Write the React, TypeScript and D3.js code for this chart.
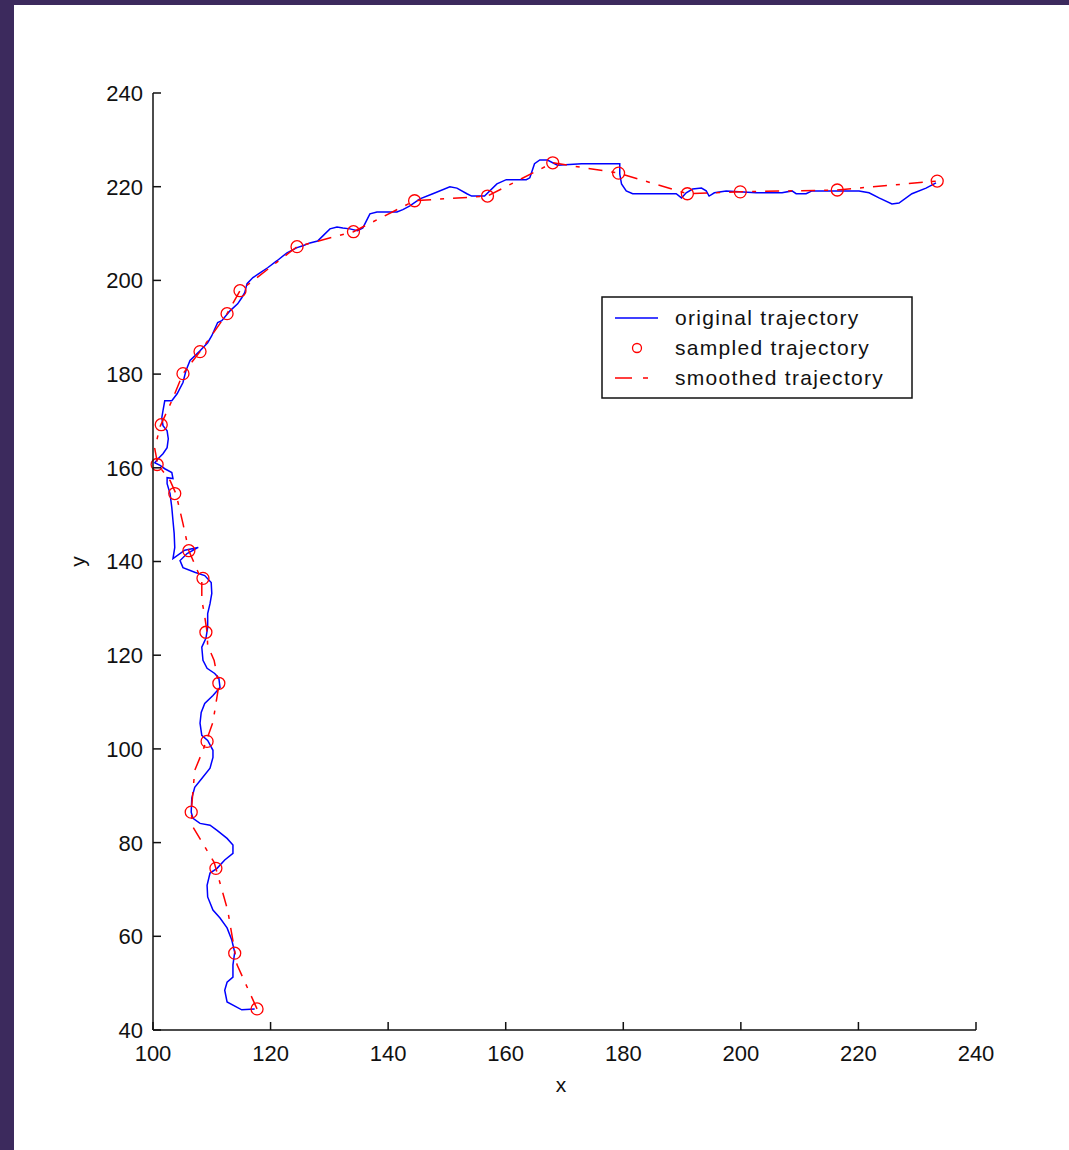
import React from "react";
import * as d3 from "d3";

// original trajectory (blue)
const origX = [
  117.3, 115.1, 112.6, 112.2, 112.6, 113.6, 113.6, 113.9, 113.4, 112.6,
  111.4, 110.2, 109.3, 109.2, 109.7, 110.9, 112.2, 113.6, 113.6, 112.6,
  110.9, 109.7, 108.0, 106.8, 106.5, 106.6, 107.1, 108.3, 109.7, 110.2,
  110.2, 109.3, 108.3, 108.0, 108.2, 108.8, 110.2, 111.4, 111.2, 110.5,
  109.2, 108.5, 108.3, 109.0, 109.3, 109.3, 109.7, 110.0, 109.9, 108.8,
  107.1, 105.1, 104.6, 105.8, 107.7, 105.4, 103.4, 103.7, 103.6, 103.4,
  103.2, 102.9, 102.4, 102.4, 103.4, 103.2, 102.0, 101.2, 100.3, 100.9,
  101.7, 102.4, 102.6, 102.4, 101.7, 101.5, 101.7, 102.0, 103.2, 104.1,
  105.1, 105.6, 106.3, 108.0, 109.3, 110.0, 111.0, 111.7, 113.1, 114.4,
  115.1, 115.6, 116.0, 117.0, 118.2, 119.5, 121.1, 122.8, 124.5, 125.5,
  126.7, 128.0, 128.9, 130.1, 131.3, 132.3, 133.5, 134.8, 135.7, 136.9,
  138.1, 141.5, 142.5, 143.7, 145.4, 147.6, 150.5, 151.7, 153.4, 154.2,
  156.4, 158.5, 160.1, 163.5, 164.1, 164.9, 165.8, 167.1, 168.8, 172.9,
  179.4, 179.4, 179.7, 180.5, 181.6, 189.0, 189.9, 190.7, 191.8, 193.3,
  194.1, 194.6, 195.5, 197.5, 202.6, 207.0, 208.7, 209.4, 211.1, 212.1,
  220.1, 221.8, 223.5, 225.7, 226.9, 229.1, 231.5, 233.2,
];
const origY = [
  44.5, 44.3, 46.0, 48.5, 50.2, 51.3, 53.9, 56.6, 59.2, 61.8,
  63.9, 65.6, 68.4, 70.9, 73.5, 74.5, 76.3, 77.7, 79.5, 80.9,
  82.6, 83.7, 84.1, 85.2, 86.5, 89.5, 91.8, 93.7, 95.9, 98.2,
  99.7, 101.8, 102.9, 105.5, 107.8, 109.7, 111.4, 113.1, 115.1, 116.1,
  117.2, 118.9, 121.7, 123.6, 125.9, 128.9, 131.0, 133.2, 135.5, 137.0,
  137.7, 138.7, 140.2, 141.7, 143.0, 142.4, 140.6, 143.0, 146.0, 148.7,
  151.5, 154.5, 156.6, 157.9, 157.7, 159.0, 159.8, 160.5, 161.1, 162.0,
  163.0, 164.3, 166.2, 167.9, 169.0, 170.7, 172.2, 174.3, 174.3, 175.8,
  178.2, 180.7, 182.9, 185.0, 186.7, 188.2, 191.0, 191.4, 193.5, 195.0,
  196.3, 197.4, 199.3, 200.6, 201.6, 202.7, 204.2, 205.9, 207.0, 207.4,
  208.0, 208.4, 209.5, 211.0, 211.4, 211.2, 211.0, 210.6, 211.2, 214.2,
  214.6, 214.6, 215.1, 215.9, 217.4, 218.5, 220.0, 219.7, 218.5, 218.0,
  218.0, 220.6, 221.5, 221.5, 221.9, 224.9, 225.7, 225.7, 224.6, 224.9,
  224.9, 222.7, 220.6, 219.1, 218.5, 218.5, 217.6, 218.7, 219.5, 219.7,
  219.1, 218.0, 218.7, 219.1, 218.7, 218.7, 219.1, 218.5, 218.5, 219.1,
  219.1, 218.7, 217.6, 216.3, 216.5, 218.5, 219.7, 220.8,
];

// sampled trajectory (red circles)
const sampX = [
  233.4, 216.4, 199.9, 190.9, 179.2, 168.0, 156.9, 144.5, 134.1, 124.5,
  114.8, 112.6, 108.0, 105.1, 101.4, 100.7, 103.7, 106.1, 108.5, 109.0,
  111.2, 109.2, 106.5, 110.7, 113.9, 117.7,
];
const sampY = [
  221.2, 219.3, 218.9, 218.5, 222.9, 225.1, 218.0, 217.0, 210.4, 207.2,
  197.8, 192.9, 184.8, 180.1, 169.2, 160.7, 154.5, 142.3, 136.4, 124.9,
  114.0, 101.6, 86.5, 74.5, 56.4, 44.5,
];

// smoothed trajectory (red dash-dot)
const smoothX = [
  117.7, 114.3, 112.7, 110.4, 106.8, 106.5, 107.1, 108.5, 110.2, 111.2,
  110.4, 109.3, 109.2, 108.7, 108.3, 108.3, 106.1, 105.1, 103.9, 102.9,
  100.8, 100.3, 101.2, 103.2, 105.1, 108.0, 112.6, 114.8, 124.5, 134.1,
  144.5, 156.9, 168.0, 179.2, 190.9, 199.9, 216.4, 233.4,
];
const smoothY = [
  44.5, 53.9, 65.6, 75.8, 83.3, 86.5, 95.4, 99.7, 105.7, 113.6,
  118.9, 122.1, 124.9, 129.1, 131.7, 135.9, 142.3, 148.1, 154.5, 157.3,
  160.7, 164.1, 168.8, 174.3, 180.1, 184.8, 192.9, 197.8, 207.2, 210.4,
  217.0, 218.0, 225.1, 222.9, 218.5, 218.9, 219.3, 221.2,
];

const xTicks = [100, 120, 140, 160, 180, 200, 220, 240];
const yTicks = [40, 60, 80, 100, 120, 140, 160, 180, 200, 220, 240];
const legendLabels = ["original trajectory", "sampled trajectory", "smoothed trajectory"];

const W = 1069;
const H = 1150;
const FONT = "'Liberation Sans', Arial, sans-serif";

export default function App() {
  const x = d3.scaleLinear().domain([100, 240]).range([153, 976]);
  const y = d3.scaleLinear().domain([40, 240]).range([1030, 93]);

  const path = (xs: number[], ys: number[]) =>
    d3
      .line<number>()
      .x((d) => x(xs[d]))
      .y((d) => y(ys[d]))(d3.range(xs.length)) || "";

  const dash = "14,9,4,9";
  const lg = { x0: 602, y0: 297, w: 310, h: 101 };

  return (
    <svg
      width={W}
      height={H}
      style={{ position: "absolute", left: 0, top: 0, display: "block" }}
    >
      <rect width={W} height={H} fill="#3c2a5d" />
      <rect x={14} y={5} width={W - 14} height={H - 5} fill="#ffffff" />

      {/* data */}
      <path d={path(origX, origY)} fill="none" stroke="#0000ff" strokeWidth={1.5} />
      <path
        d={path(smoothX, smoothY)}
        fill="none"
        stroke="#ff0000"
        strokeWidth={1.5}
        strokeDasharray={dash}
      />
      {sampX.map((v, i) => (
        <circle key={i} cx={x(v)} cy={y(sampY[i])} r={6} fill="none" stroke="#ff0000" strokeWidth={1.3} />
      ))}

      {/* axes */}
      <g stroke="#111" strokeWidth={1.5} fill="none">
        <line x1={x(100)} x2={x(100)} y1={y(240)} y2={y(40)} />
        <line x1={x(100)} x2={x(240)} y1={y(40)} y2={y(40)} />
        {yTicks.map((t) => (
          <line key={"yt" + t} x1={x(100)} x2={x(100) + 8} y1={y(t)} y2={y(t)} />
        ))}
        {xTicks.map((t) => (
          <line key={"xt" + t} x1={x(t)} x2={x(t)} y1={y(40)} y2={y(40) - 8} />
        ))}
      </g>
      <g fontFamily={FONT} fontSize={22} fill="#111">
        {yTicks.map((t) => (
          <text key={"yl" + t} x={x(100) - 10} y={y(t)} dy="0.36em" textAnchor="end">
            {t}
          </text>
        ))}
        {xTicks.map((t) => (
          <text key={"xl" + t} x={x(t)} y={y(40) + 31} textAnchor="middle">
            {t}
          </text>
        ))}
        <text x={561} y={1092} textAnchor="middle" fontSize={21}>
          x
        </text>
        <text
          transform={`translate(85, ${(y(40) + y(240)) / 2}) rotate(-90)`}
          textAnchor="middle"
          fontSize={21}
        >
          y
        </text>
      </g>

      {/* legend */}
      <g>
        <rect x={lg.x0} y={lg.y0} width={lg.w} height={lg.h} fill="#fff" stroke="#111" strokeWidth={1.5} />
        <line x1={615} x2={658} y1={318} y2={318} stroke="#0000ff" strokeWidth={1.5} />
        <circle cx={637} cy={348} r={4.5} fill="none" stroke="#ff0000" strokeWidth={1.3} />
        <line x1={615} x2={658} y1={378} y2={378} stroke="#ff0000" strokeWidth={1.5} strokeDasharray="17,11,5,20" />
        {legendLabels.map((s, i) => (
          <text
            key={s}
            x={675}
            y={325 + i * 30}
            fontFamily={FONT}
            fontSize={21}
            letterSpacing={1.3}
            fill="#111"
          >
            {s}
          </text>
        ))}
      </g>
    </svg>
  );
}
